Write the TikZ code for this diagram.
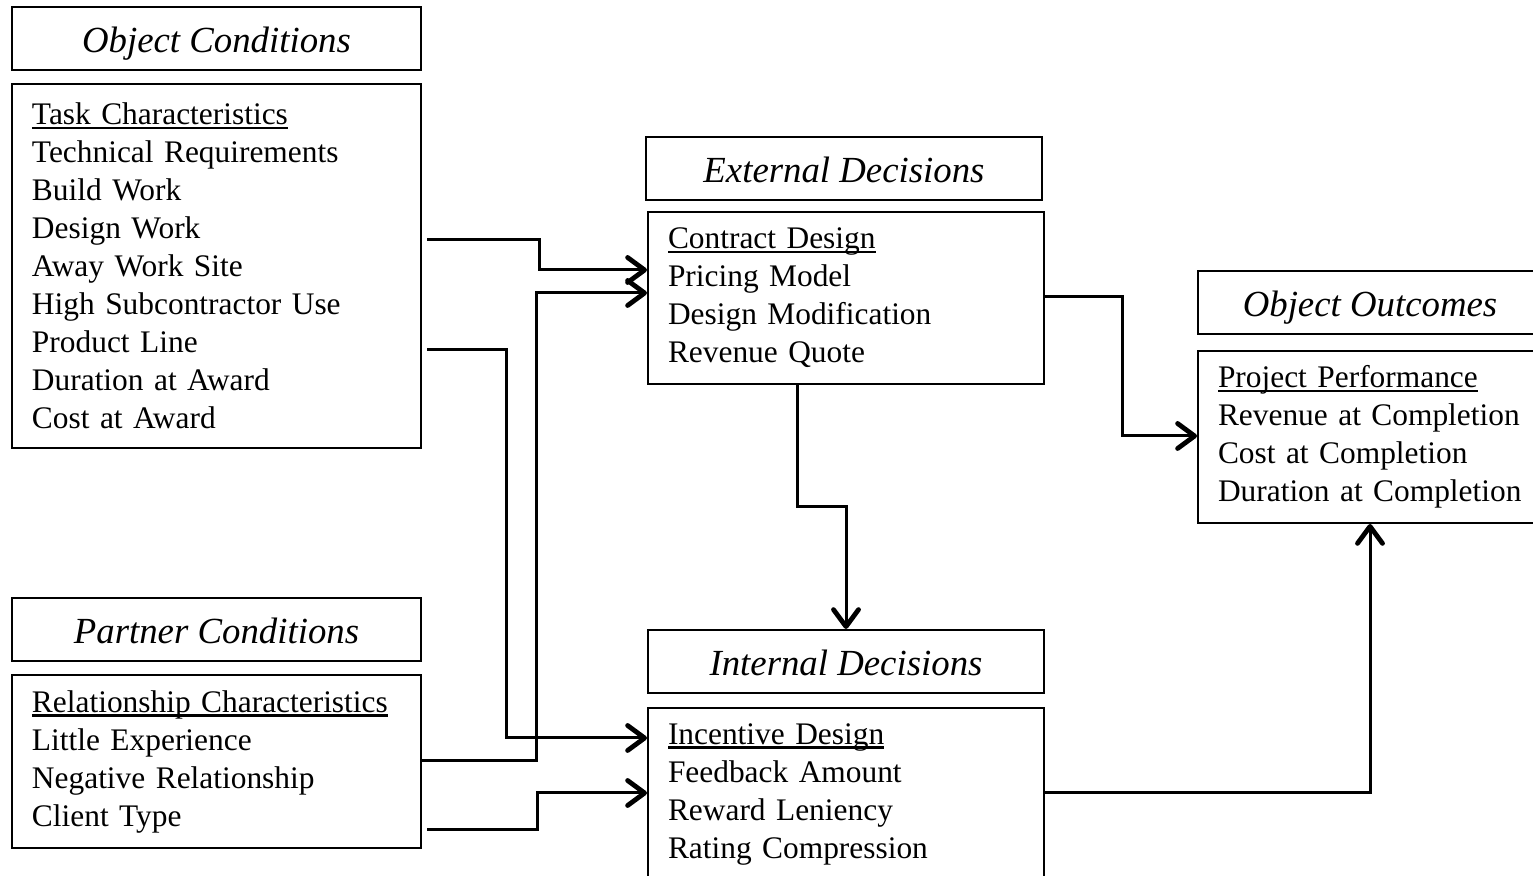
\documentclass[tikz,border=0pt]{standalone}
\usepackage{fontspec}
\setmainfont{Liberation Serif}
\usetikzlibrary{arrows.meta,calc}
\newcommand{\myul}[1]{\setbox0\hbox{#1}\rlap{\rule[-2.3pt]{\wd0}{1.1pt}}\box0}
\begin{document}
\begin{tikzpicture}[x=0.5pt,y=-0.5pt,
  titlebox/.style={draw, line width=1pt, font=\fontsize{18.4}{22}\selectfont\itshape,
    minimum height=31.5pt, inner sep=0pt, text height=17pt, text depth=3pt},
  listbox/.style={draw, line width=1pt, font=\fontsize{15.7}{19}\selectfont,
    align=left, inner xsep=10pt, inner ysep=0pt},
  conn/.style={line width=1.5pt, line join=miter,
    -{Straight Barb[length=8.5pt,width=12.5pt,line width=2.4pt,round]}}]
\useasboundingbox (0,0) rectangle (1533,876);
% Object conditions
\node[titlebox, minimum width=204.5pt] (ocT) at (216.5,39) {Object Conditions};
\node[listbox, text width=184.5pt, minimum height=182pt] (ocB) at (216.5,266)
  {\myul{Task Characteristics}\\ Technical Requirements\\ Build Work\\ Design Work\\
   Away Work Site\\ High Subcontractor Use\\ Product Line\\ Duration at Award\\ Cost at Award};
% Partner conditions
\node[titlebox, minimum width=204.5pt] (pcT) at (216.5,629.5) {Partner Conditions};
\node[listbox, text width=184.5pt, minimum height=86.5pt] (pcB) at (216.5,761.5)
  {\myul{Relationship Characteristics}\\ Little Experience\\ Negative Relationship\\ Client Type};
% External decisions
\node[titlebox, minimum width=198pt] (edT) at (844,168.5) {External Decisions};
\node[listbox, text width=178pt, minimum height=86pt] (edB) at (846,298)
  {\myul{Contract Design}\\ Pricing Model\\ Design Modification\\ Revenue Quote};
% Internal decisions
\node[titlebox, minimum width=198pt] (idT) at (846,661.5) {Internal Decisions};
\node[listbox, text width=178pt, minimum height=86pt] (idB) at (846,794)
  {\myul{Incentive Design}\\ Feedback Amount\\ Reward Leniency\\ Rating Compression};
% Object outcomes
\node[titlebox, minimum width=172pt] (ooT) at (1370,302.5) {Object Outcomes};
\node[listbox, text width=152pt, minimum height=86pt] (ooB) at (1370,437)
  {\myul{Project Performance}\\ Revenue at Completion\\ Cost at Completion\\ Duration at Completion};
% connectors
\draw[conn] ([shift={(5,-26)}]ocB.east) -- ++(112,0) |- ([shift={(0,-28)}]edB.west);
\draw[conn] ([shift={(0,-1)}]pcB.east) -- ++(114,0) |- ([shift={(0,-5)}]edB.west);
\draw[conn] ([shift={(5,84)}]ocB.east) -- ++(79,0) |- ([shift={(0,-56)}]idB.west);
\draw[conn] ([shift={(5,68.5)}]pcB.east) -- ++(110,0) |- ([shift={(0,-1)}]idB.west);
\draw[conn] ([shift={(-49,0)}]edB.south) |- ($(edB.south)!0.5!(idT.north)$) -- (idT.north);
\draw[conn] ([shift={(0,-1)}]edB.east) -- ++(77,0) |- ([shift={(0,-1)}]ooB.west);
\draw[conn] ([shift={(0,-1)}]idB.east) -| (ooB.south);
\end{tikzpicture}
\end{document}
